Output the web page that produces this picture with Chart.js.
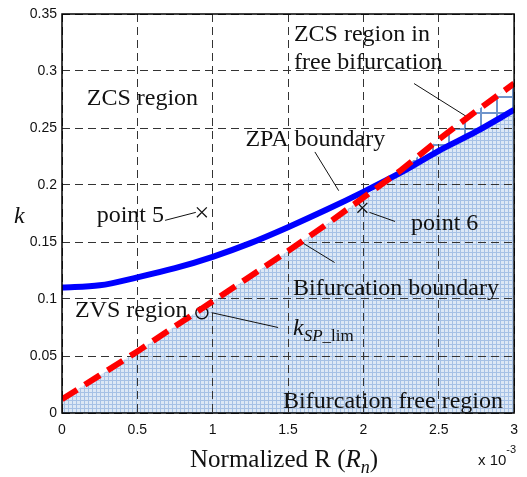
<!DOCTYPE html>
<html>
<head>
<meta charset="utf-8">
<script src="https://cdn.jsdelivr.net/npm/chart.js@4.4.1/dist/chart.umd.min.js"></script>
<style>
  html, body { margin: 0; padding: 0; background: #fff; }
  #wrap { width: 527px; height: 477px; }
</style>
</head>
<body>
<div id="wrap"><canvas id="regionChart"></canvas></div>
<script>
// Normalized R (x 10^-3) sample points and the two boundaries
const rn = [0, 0.25, 0.5, 0.75, 1, 1.25, 1.5, 1.75, 2, 2.25, 2.5, 2.75, 3];
const kBifurcation = [0.012, 0.033, 0.054, 0.076, 0.098, 0.120, 0.142, 0.165, 0.189, 0.213, 0.240, 0.265, 0.289];
const kZpa = [0.110, 0.112, 0.119, 0.127, 0.137, 0.149, 0.163, 0.178, 0.194, 0.211, 0.230, 0.247, 0.266];

// marked operating points
const point5 = [0.928, 0.176];
const point6 = [1.993, 0.180];
const kSpLim = [0.928, 0.088];

// leader lines [x1, y1, x2, y2] in data units
const leaders = [
  [1.678, 0.229, 1.836, 0.195],   // ZPA boundary
  [0.684, 0.169, 0.888, 0.176],   // point 5
  [2.040, 0.176, 2.210, 0.168],   // point 6
  [1.599, 0.149, 1.809, 0.132],   // Bifurcation boundary
  [0.993, 0.088, 1.434, 0.075],   // k_SP_lim
  [2.336, 0.289, 2.697, 0.259]    // ZCS region in free bifurcation
];

// region labels: text, x (left), y (baseline) in data units
const labelText = ['ZCS region', 'ZCS region in', 'free bifurcation', 'ZPA boundary', 'point 5',
  'point 6', 'Bifurcation boundary', 'ZVS region', 'Bifurcation free region'];
const labelX = [0.164, 1.539, 1.539, 1.217, 0.230, 2.316, 1.533, 0.086, 1.467];
const labelY = [0.270, 0.326, 0.302, 0.234, 0.1675, 0.1605, 0.1035, 0.084, 0.0044];

const xTicks = [0, 0.5, 1, 1.5, 2, 2.5, 3];
const yTicks = [0, 0.05, 0.1, 0.15, 0.2, 0.25, 0.3, 0.35];

const SERIF = '"Liberation Serif", "Times New Roman", serif';
const SANS = '"Liberation Sans", Arial, sans-serif';

function makePattern(size, bg, line, lw) {
    const c = document.createElement('canvas');
    c.width = size; c.height = size;
    const g = c.getContext('2d');
    g.fillStyle = bg;
    g.fillRect(0, 0, size, size);
    g.fillStyle = line;
    g.fillRect(0, 0, size, lw);
    g.fillRect(0, 0, lw, size);
    return g.createPattern(c, 'repeat');
}
const finePattern = makePattern(4, '#dde8f5', '#a6c1e5', 1);
const coarsePattern = makePattern(16, '#ffffff', '#6f95cc', 2);

const pts = (ys) => rn.map((x, i) => ({ x: x, y: ys[i] }));
const plain = v => String(+Number(v).toFixed(3));

// draw a sequence of text runs starting at (x, y)
function drawRuns(ctx, x, y, runs) {
    let cx = x;
    runs.forEach(r => {
        ctx.font = r.font;
        ctx.fillText(r.t, cx, y + (r.dy || 0));
        cx += ctx.measureText(r.t).width;
    });
}

const framePlugin = {
    id: 'frameAndText',
    afterDraw(chart) {
        const { ctx, chartArea: a, scales } = chart;
        const sx = scales.x, sy = scales.y;
        ctx.save();
        ctx.strokeStyle = '#000';
        ctx.lineWidth = 1.5;
        ctx.strokeRect(a.left, a.top, a.right - a.left, a.bottom - a.top);

        ctx.fillStyle = '#111';
        ctx.textBaseline = 'alphabetic';
        ctx.textAlign = 'left';
        ctx.font = '24px ' + SERIF;
        labelText.forEach((t, i) => {
            ctx.fillText(t, sx.getPixelForValue(labelX[i]), sy.getPixelForValue(labelY[i]));
        });

        // k_SP_lim
        drawRuns(ctx, sx.getPixelForValue(1.533), sy.getPixelForValue(0.0685), [
            { t: 'k', font: 'italic 24px ' + SERIF },
            { t: 'SP', font: 'italic 17px ' + SERIF, dy: 6 },
            { t: '_lim', font: '17px ' + SERIF, dy: 6 }
        ]);

        // axis titles
        const title = [
            { t: 'Normalized R (', font: '25px ' + SERIF },
            { t: 'R', font: 'italic 25px ' + SERIF },
            { t: 'n', font: 'italic 18px ' + SERIF, dy: 6 },
            { t: ')', font: '25px ' + SERIF }
        ];
        let w = 0;
        title.forEach(r => { ctx.font = r.font; w += ctx.measureText(r.t).width; });
        drawRuns(ctx, (a.left + a.right) / 2 - 4 - w / 2, 467, title);

        ctx.font = 'italic 24px ' + SERIF;
        ctx.fillText('k', 14, 223);

        drawRuns(ctx, 478, 465, [
            { t: 'x 10', font: '15px ' + SANS },
            { t: '-3', font: '11px ' + SANS, dy: -12 }
        ]);
        ctx.restore();
    }
};

const leaderSets = leaders.map(l => ({
    data: [{ x: l[0], y: l[1] }, { x: l[2], y: l[3] }],
    borderColor: '#111',
    borderWidth: 1,
    pointRadius: 0,
    fill: false
}));

new Chart(document.getElementById('regionChart'), {
    type: 'line',
    data: {
        datasets: [
            {
                // bifurcation boundary; fills the ZCS area above the ZPA curve
                data: pts(kBifurcation),
                borderColor: '#ff0000',
                borderWidth: 6,
                borderDash: [18, 9],
                borderCapStyle: 'butt',
                pointRadius: 0,
                fill: { target: 1, above: coarsePattern, below: 'rgba(0,0,0,0)' }
            },
            {
                data: pts(kZpa),
                borderColor: '#0000ff',
                borderWidth: 6,
                cubicInterpolationMode: 'monotone',
                pointRadius: 0,
                fill: false
            },
            {
                // bifurcation free region
                data: pts(kBifurcation),
                borderWidth: 0,
                borderColor: 'rgba(0,0,0,0)',
                pointRadius: 0,
                fill: { target: 'origin', above: finePattern }
            },
            {
                data: [{ x: point5[0], y: point5[1] }, { x: point6[0], y: point6[1] }],
                showLine: false,
                pointStyle: 'crossRot',
                pointRadius: 7,
                borderColor: '#111',
                borderWidth: 1.3
            },
            {
                data: [{ x: kSpLim[0], y: kSpLim[1] }],
                showLine: false,
                pointStyle: 'circle',
                pointRadius: 6,
                backgroundColor: 'rgba(0,0,0,0)',
                borderColor: '#111',
                borderWidth: 1.4
            },
            ...leaderSets
        ]
    },
    options: {
        responsive: true,
        maintainAspectRatio: false,
        animation: false,
        events: [],
        layout: { padding: { top: 14, right: 9, left: 0, bottom: 0 } },
        plugins: {
            legend: { display: false },
            tooltip: { enabled: false },
            filler: { drawTime: 'beforeDraw' }
        },
        scales: {
            x: {
                type: 'linear',
                min: 0, max: 3,
                afterFit: s => { s.height = 64; },
                afterBuildTicks: s => { s.ticks = xTicks.map(v => ({ value: v })); },
                grid: { color: '#333', lineWidth: 1, drawTicks: false },
                border: { display: false, dash: [8, 5] },
                ticks: { padding: 9, color: '#111', font: { family: SANS, size: 14 }, callback: plain }
            },
            y: {
                type: 'linear',
                min: 0, max: 0.35,
                afterFit: s => { s.width = 62; },
                afterBuildTicks: s => { s.ticks = yTicks.map(v => ({ value: v })); },
                grid: { color: '#333', lineWidth: 1, drawTicks: false },
                border: { display: false, dash: [8, 5] },
                ticks: { padding: 5, color: '#111', font: { family: SANS, size: 14 }, callback: plain }
            }
        }
    },
    plugins: [framePlugin]
});
</script>
</body>
</html>
